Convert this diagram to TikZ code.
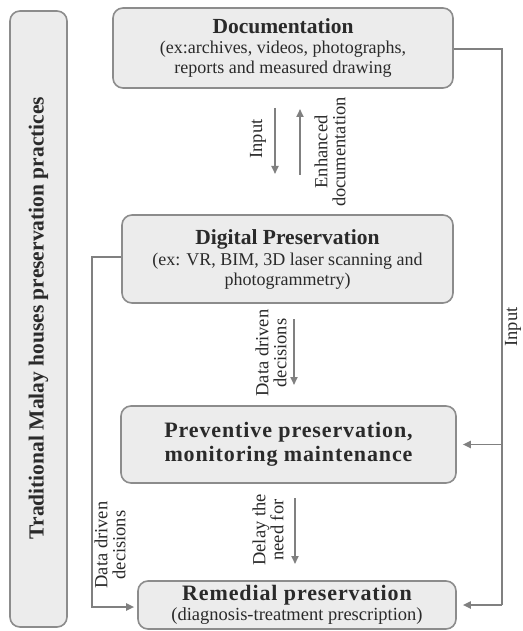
\documentclass[tikz,border=0pt]{standalone}
\usepackage{fontspec}
\setmainfont{Liberation Serif}
\usetikzlibrary{arrows.meta}
\definecolor{boxfill}{HTML}{ECECEC}
\definecolor{boxline}{HTML}{8C8C8C}
\definecolor{arr}{HTML}{808080}
\definecolor{txt}{HTML}{2A2A2A}
\tikzset{
  box/.style={draw=boxline, line width=1.6pt, fill=boxfill, rounded corners=10pt, align=center, text=txt, inner sep=0pt},
  conn/.style={draw=arr, line width=1.8pt},
  arrow/.style={conn, -{Triangle[length=8pt,width=7pt]}},
  lbl/.style={text=txt, align=center, font=\fontsize{18.5}{18}\selectfont, rotate=90, inner sep=0pt},
  sub/.style={font=\fontsize{18}{20}\selectfont},
}
\newcommand{\ttlfont}{\fontsize{21.5}{22}\selectfont\bfseries}
\newcommand{\widettl}{\fontsize{22}{24}\selectfont\bfseries\addfontfeature{LetterSpace=4}}
\begin{document}
\begin{tikzpicture}[x=1pt,y=-1pt]
\useasboundingbox (0,0) rectangle (522,631);
% boxes
\node[box, minimum width=57pt, minimum height=616pt] (side) at (38.5,319) {};
\node[text=txt, rotate=90, font=\fontsize{21.5}{22}\selectfont\bfseries] (sidet) at (38.5,318) {Traditional Malay houses preservation practices};
\node[box, sub, minimum width=340pt, minimum height=80pt] (doc) at (283,48)
  {{\ttlfont Documentation}\\[0pt]
   (ex:archives, videos, photographs,\\ reports and measured drawing};
\node[box, sub, minimum width=331pt, minimum height=88pt] (dig) at (287.5,259)
  {{\ttlfont Digital Preservation}\\[1pt]
   (ex: VR, BIM, 3D laser scanning and\\ photogrammetry)};
\node[box, minimum width=335pt, minimum height=77pt, font=\widettl] (prev) at (288.5,444.5)
  {Preventive preservation,\\ monitoring maintenance};
\node[box, font=\fontsize{18.5}{20}\selectfont, minimum width=318pt, minimum height=48pt] (rem) at (297,605)
  {{\widettl Remedial preservation}\\
   (diagnosis-treatment prescription)};
% coordinates
\coordinate (rt) at (502,49);
\coordinate (rm) at (502,444.5);
\coordinate (rb) at (502,605);
\coordinate (lt) at (92,257);
\coordinate (lb) at (92,607);
\coordinate (a1s) at (275,108);
\coordinate (a1e) at (275,174);
\coordinate (a2s) at (300,175);
\coordinate (a2e) at (300,109);
\coordinate (a3s) at (294,319);
\coordinate (a3e) at (294,385);
\coordinate (a4s) at (295,498);
\coordinate (a4e) at (295,564);
% connectors
\draw[conn] (doc.east |- rt) -- (rt) -- (rb);
\draw[arrow, shorten >=6pt] (rb) -- (rem.east |- rb);
\draw[arrow, shorten >=6pt] (rm) -- (prev.east |- rm);
\draw[arrow, shorten >=3pt] (dig.west |- lt) -- (lt) -- (lb) -- (rem.west |- lb);
\draw[arrow] (a1s) -- (a1e);
\draw[arrow] (a2s) -- (a2e);
\draw[arrow] (a3s) -- (a3e);
\draw[arrow] (a4s) -- (a4e);
% labels
\node[lbl] (l1) at (258,139) {Input};
\node[lbl] (l2) at (330,152) {Enhanced\\documentation};
\node[lbl] (l3) at (271,353) {Data driven\\decisions};
\node[lbl] (l4) at (268,530) {Delay the\\need for};
\node[lbl] (l5) at (110,545) {Data driven\\decisions};
\node[lbl] (l6) at (513,327) {Input};
\end{tikzpicture}
\end{document}
